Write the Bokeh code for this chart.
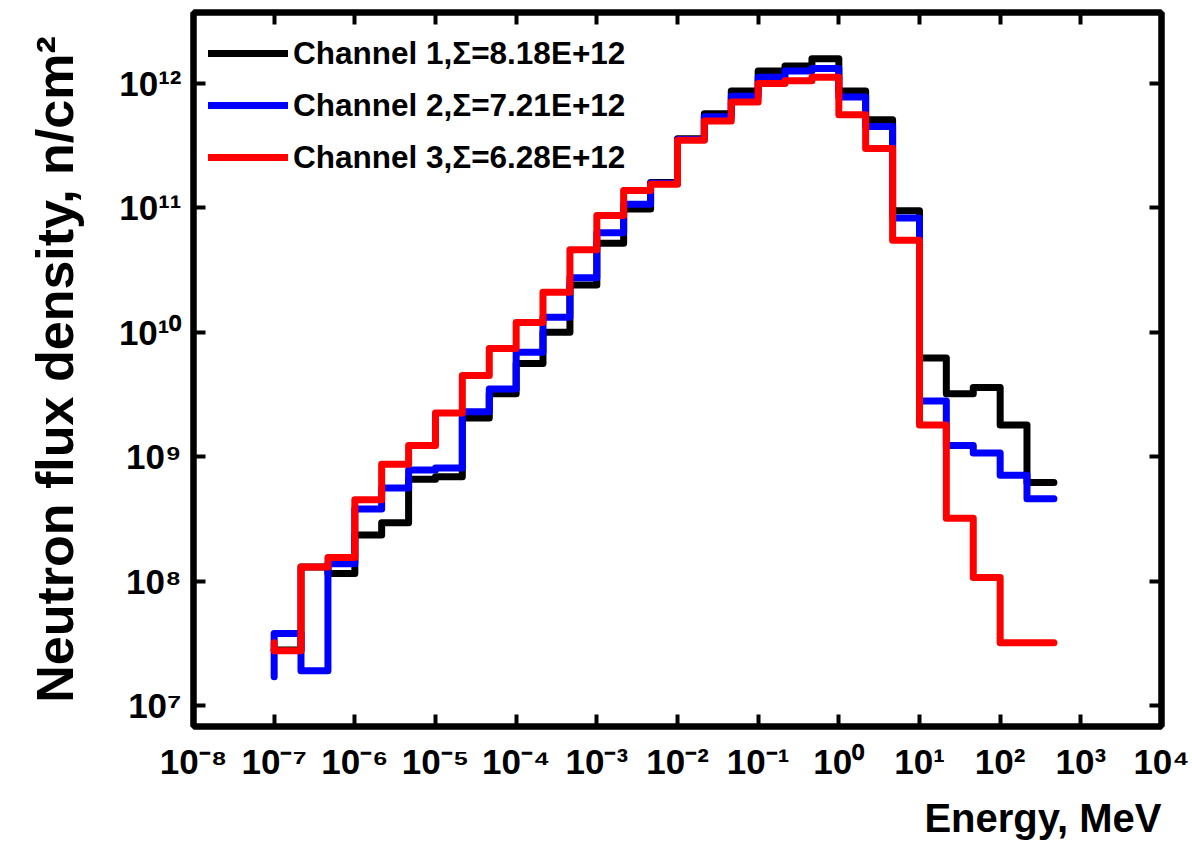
from bokeh.plotting import figure
from bokeh.models import (LogAxis, FixedTicker, CustomJSTickFormatter, Legend,
                          LegendItem, Title, Range1d)
from bokeh.embed import file_html
from bokeh.resources import INLINE

# Group boundaries (MeV); the first flux entry is the starting point of each step line
energy = [1.0e-7, 2.15e-7, 4.64e-7,
          1.0e-6, 2.15e-6, 4.64e-6,
          1.0e-5, 2.15e-5, 4.64e-5,
          1.0e-4, 2.15e-4, 4.64e-4,
          1.0e-3, 2.15e-3, 4.64e-3,
          1.0e-2, 2.15e-2, 4.64e-2,
          1.0e-1, 2.15e-1, 4.64e-1,
          1.0, 2.15, 4.64,
          10.0, 21.5, 46.4,
          100.0, 215.0, 464.0]

channel1 = [2.8e7, 2.8e7, 1.3e8, 1.15e8, 2.35e8, 2.95e8, 6.6e8, 6.9e8, 2.05e9, 3.2e9,
            5.6e9, 1.0e10, 2.4e10, 5.2e10, 9.8e10, 1.6e11, 3.6e11, 5.7e11, 8.7e11, 1.26e12,
            1.38e12, 1.58e12, 8.7e11, 5.1e11, 9.5e10, 6.2e9, 3.2e9, 3.6e9, 1.8e9, 6.2e8]
channel2 = [1.7e7, 3.8e7, 1.9e7, 1.38e8, 3.8e8, 5.6e8, 7.8e8, 8.1e8, 2.3e9, 3.5e9,
            6.9e9, 1.32e10, 2.75e10, 6.3e10, 1.07e11, 1.58e11, 3.55e11, 5.4e11, 7.9e11, 1.12e12,
            1.26e12, 1.32e12, 7.8e11, 4.5e11, 8.3e10, 2.8e9, 1.23e9, 1.07e9, 7.1e8, 4.6e8]
channel3 = [3.2e7, 2.75e7, 1.3e8, 1.55e8, 4.5e8, 8.7e8, 1.23e9, 2.25e9, 4.5e9, 7.4e9,
            1.2e10, 2.1e10, 4.6e10, 8.7e10, 1.38e11, 1.55e11, 3.5e11, 5.0e11, 7.1e11, 1.0e12,
            1.05e12, 1.12e12, 5.6e11, 3.0e11, 5.5e10, 1.8e9, 3.2e8, 1.07e8, 3.2e7, 3.2e7]

labels = ["Channel 1,\u03a3=8.18E+12", "Channel 2,\u03a3=7.21E+12", "Channel 3,\u03a3=6.28E+12"]
colors = ["black", "#0000ff", "#ff0000"]

x_ticks = [1e-8, 1e-7, 1e-6, 1e-5, 1e-4, 1e-3, 1e-2, 1e-1, 1e0, 1e1, 1e2, 1e3, 1e4]
y_ticks = [1e7, 1e8, 1e9, 1e10, 1e11, 1e12]

FONT = "Liberation Sans"

p = figure(width=1192, height=849, x_axis_type="log", y_axis_type="log",
           x_range=Range1d(1e-8, 1e4), y_range=Range1d(6.78e6, 3.72e12),
           output_backend="svg", toolbar_location=None,
           min_border_left=193, min_border_right=31,
           min_border_top=12, min_border_bottom=123)
p.grid.visible = False
p.outline_line_color = "black"
p.outline_line_width = 6
p.background_fill_color = "white"
p.border_fill_color = "white"

pow_fmt = CustomJSTickFormatter(code="""
const sup = {'-':'\u207b','0':'\u2070','1':'\u00b9','2':'\u00b2','3':'\u00b3','4':'\u2074',
             '5':'\u2075','6':'\u2076','7':'\u2077','8':'\u2078','9':'\u2079'};
const e = Math.round(Math.log10(tick));
return '10' + String(e).split('').map(c => sup[c]).join('');
""")


def style_axis(ax, ticks, show_labels):
    ax.ticker = FixedTicker(ticks=ticks)
    ax.axis_line_width = 6
    ax.axis_line_color = "black"
    ax.major_tick_line_width = 4
    ax.major_tick_line_color = "black"
    ax.major_tick_in = 12
    ax.major_tick_out = 0
    ax.minor_tick_line_color = None
    if show_labels:
        ax.formatter = pow_fmt
        ax.major_label_text_font = FONT
        ax.major_label_text_font_style = "bold"
        ax.major_label_text_font_size = "35px"
        ax.major_label_text_color = "black"
        ax.major_label_standoff = 12
    else:
        ax.major_label_text_font_size = "1px"
        ax.major_label_text_color = None
        ax.major_label_standoff = 0


style_axis(p.xaxis[0], x_ticks, True)
p.xaxis[0].major_label_standoff = 15
style_axis(p.yaxis[0], y_ticks, True)
p.yaxis[0].axis_label = "Neutron flux density, n/cm\u00b2"
p.yaxis[0].axis_label_text_font = FONT
p.yaxis[0].axis_label_text_font_style = "bold"
p.yaxis[0].axis_label_text_font_size = "52px"
p.yaxis[0].axis_label_text_color = "black"
p.yaxis[0].axis_label_standoff = 32

top_axis = LogAxis()
right_axis = LogAxis()
style_axis(top_axis, x_ticks, False)
style_axis(right_axis, y_ticks, False)
p.add_layout(top_axis, "above")
p.add_layout(right_axis, "right")

xlabel = Title(text="Energy, MeV", align="right", text_font=FONT,
               text_font_style="bold", text_font_size="40px", text_color="black",
               standoff=20)
p.add_layout(xlabel, "below")

items = []
for ys, col, lab in zip([channel1, channel2, channel3], colors, labels):
    r = p.step(energy, ys, mode="before", line_color=col, line_width=7,
               line_join="round", line_cap="round")
    items.append(LegendItem(label=lab, renderers=[r]))

legend = Legend(items=items, location="top_left")
legend.background_fill_alpha = 0
legend.border_line_alpha = 0
legend.margin = 0
legend.padding = 15
legend.spacing = 0
legend.glyph_width = 80
legend.glyph_height = 52
legend.label_height = 52
legend.label_standoff = 5
legend.label_text_font = FONT
legend.label_text_font_style = "bold"
legend.label_text_font_size = "31.5px"
legend.label_text_color = "black"
p.add_layout(legend)

open("out.html", "w").write(file_html(p, INLINE))
